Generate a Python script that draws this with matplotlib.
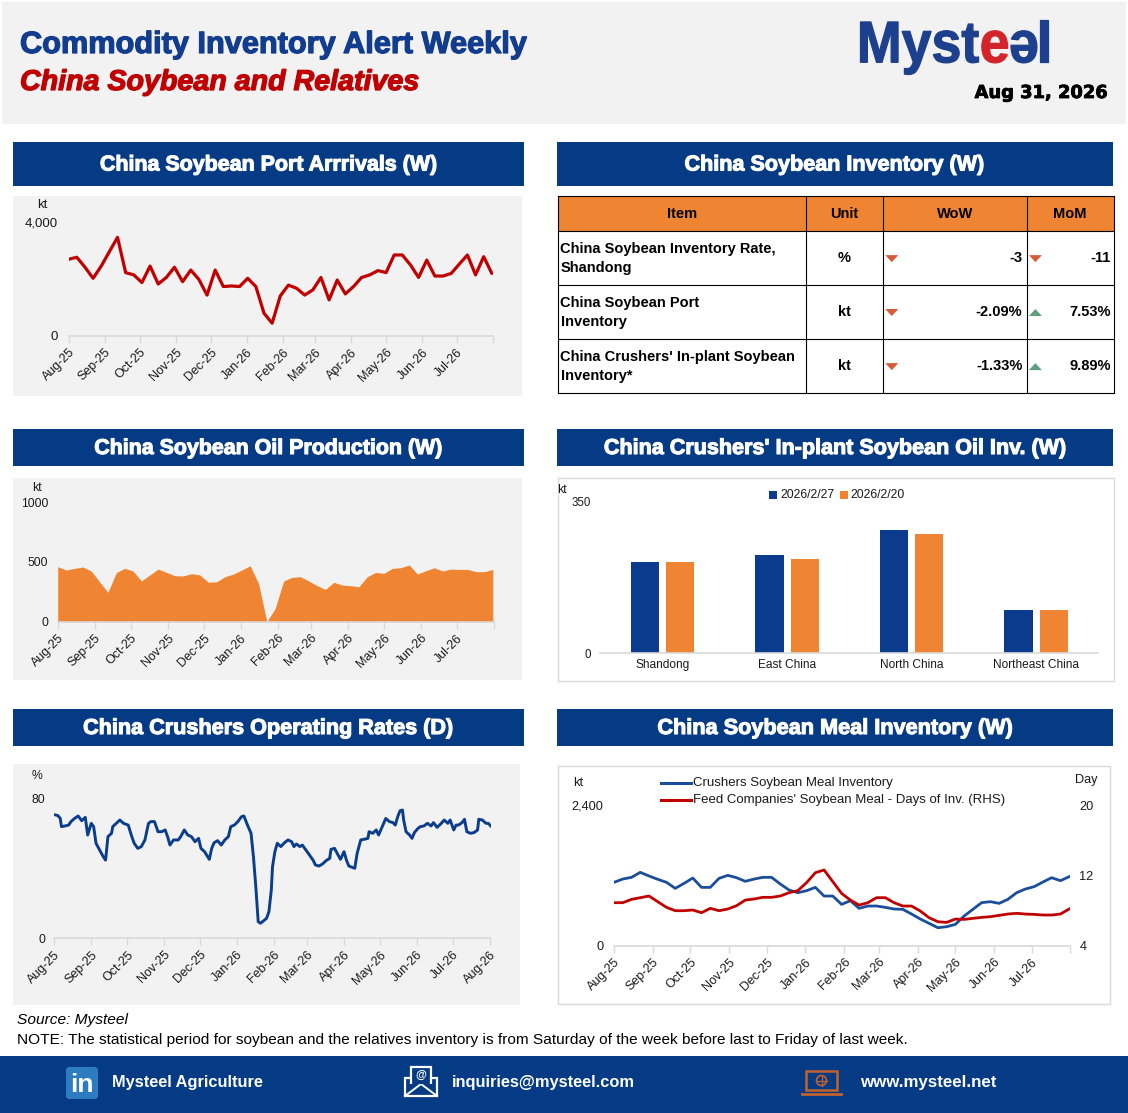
import matplotlib
matplotlib.use('Agg')
import matplotlib.pyplot as plt
from matplotlib.patches import Rectangle, Polygon, FancyBboxPatch, Circle, PathPatch
from matplotlib.textpath import TextPath
from matplotlib.font_manager import FontProperties
from matplotlib.transforms import Affine2D
import matplotlib.patheffects as pe
import pandas as pd

plt.rcParams['font.family'] = ['Liberation Sans', 'DejaVu Sans']

# ---------------- data ----------------
report_date = 'Aug 31, 2026'
series_start = '2025-08-01'

arrivals_kt = [2700, 2770, 2420, 2030, 2460, 2970, 3470, 2230, 2150, 1880, 2460, 1830, 2060, 2420,
               1910, 2320, 1990, 1440, 2320, 1740, 1760, 1740, 2030, 1740, 800, 450, 1410, 1790,
               1680, 1440, 1620, 2060, 1270, 1970, 1480, 1740, 2060, 2150, 2300, 2230, 2850, 2850,
               2500, 2060, 2670, 2110, 2110, 2200, 2530, 2850, 2150, 2790, 2200]

oil_prod_kt = [461, 433, 447, 458, 425, 335, 246, 411, 447, 425, 341, 391, 441, 413, 385, 383, 402,
               391, 330, 335, 377, 399, 433, 469, 321, 0, 112, 341, 371, 377, 341, 302, 271, 330,
               307, 302, 293, 377, 413, 405, 447, 452, 475, 399, 427, 452, 425, 441, 438, 438, 419,
               419, 438]

rate_day = [1, 3, 5, 6, 9, 12, 14, 17, 20, 23, 26, 28, 31, 33, 35, 38, 41, 43, 45, 48, 49, 52, 55, 58,
            62, 65, 67, 70, 73, 76, 79, 81, 84, 87, 90, 93, 95, 97, 100, 104, 106, 109, 112, 115, 118,
            121, 123, 126, 130, 132, 134, 137, 140, 143, 146, 148, 151, 154, 157, 159, 162, 165, 167,
            169, 171, 173, 178, 180, 182, 183, 185, 187, 190, 193, 196, 199, 201, 203, 206, 208, 211,
            214, 217, 219, 222, 225, 228, 231, 232, 235, 238, 240, 243, 245, 247, 252, 254, 257, 260,
            263, 264, 267, 270, 272, 275, 278, 281, 284, 286, 288, 290, 292, 293, 295, 298, 300, 302,
            305, 307, 310, 313, 316, 318, 321, 324, 327, 330, 332, 335, 337, 339, 342, 344, 346, 349,
            352, 355, 356, 359, 362, 364, 366]
rate_pct = [70.5, 70.1, 68.5, 63.8, 64.2, 64.7, 66.7, 68.5, 69.9, 67.2, 69.1, 59.0, 65.7, 63.8, 54.3,
            50.5, 46.7, 44.7, 58.1, 60.0, 63.8, 65.7, 67.6, 65.7, 64.7, 58.1, 54.3, 51.4, 52.4, 56.2,
            65.7, 66.7, 66.7, 60.9, 60.9, 61.9, 58.1, 53.3, 56.2, 56.2, 58.1, 61.9, 59.0, 58.1, 55.2,
            57.1, 51.4, 49.5, 45.1, 51.4, 54.6, 55.8, 53.3, 56.2, 58.1, 63.8, 64.7, 66.7, 69.5, 69.9,
            64.7, 60.0, 46.7, 29.5, 9.5, 8.6, 11.4, 15.2, 27.6, 40.9, 49.5, 54.3, 52.4, 54.6, 56.2,
            55.2, 52.4, 53.9, 52.4, 53.3, 50.5, 47.6, 44.7, 41.9, 41.3, 42.5, 44.4, 45.7, 50.8, 51.4,
            47.6, 45.1, 49.5, 44.7, 41.3, 40.0, 48.6, 56.2, 56.6, 57.1, 60.9, 60.0, 61.9, 59.0, 63.8,
            68.5, 66.7, 66.1, 64.7, 69.5, 72.9, 73.3, 67.6, 60.9, 59.0, 57.1, 60.4, 62.8, 63.8, 64.2,
            65.7, 64.2, 66.1, 63.4, 65.3, 67.6, 65.7, 67.6, 61.9, 64.7, 64.7, 66.1, 68.0, 60.9, 60.0,
            60.4, 61.9, 68.0, 67.6, 65.7, 65.7, 64.2]

regions = ['Shandong', 'East China', 'North China', 'Northeast China']
oil_inv_labels = ['2026/2/27', '2026/2/20']
oil_inv_0227 = [210, 227, 285, 100]
oil_inv_0220 = [210, 218, 275, 100]

meal_inv_kt = [1081, 1137, 1166, 1251, 1189, 1132, 1081, 978, 1063, 1154, 995, 995, 1149, 1200, 1160,
               1098, 1137, 1166, 1166, 1052, 950, 904, 938, 995, 847, 847, 705, 768, 637, 677, 677,
               654, 626, 620, 540, 455, 381, 307, 324, 364, 506, 620, 734, 751, 722, 791, 904, 967,
               1007, 1086, 1160, 1109, 1177]
feed_days = [8.89, 8.89, 9.27, 9.46, 9.65, 9.00, 8.36, 7.98, 7.98, 8.06, 7.75, 8.25, 7.98, 8.17, 8.55,
             9.19, 9.31, 9.50, 9.50, 9.65, 10.03, 10.26, 11.17, 12.30, 12.61, 11.28, 9.95, 9.19, 8.62,
             8.89, 9.46, 9.46, 8.89, 8.51, 8.51, 7.94, 7.18, 6.73, 6.65, 7.03, 6.99, 7.11, 7.22, 7.30,
             7.45, 7.60, 7.68, 7.60, 7.56, 7.49, 7.49, 7.60, 8.17]
meal_legend = ['Crushers Soybean Meal Inventory', "Feed Companies' Soybean Meal - Days of Inv. (RHS)"]

table_header = ['Item', 'Unit', 'WoW', 'MoM']
table_items = [['China Soybean Inventory Rate,', 'Shandong'],
               ['China Soybean Port', 'Inventory'],
               ["China Crushers' In-plant Soybean", 'Inventory*']]
table_units = ['%', 'kt', 'kt']
table_wow = ['-3', '-2.09%', '-1.33%']
table_mom = ['-11', '7.53%', '9.89%']

panel_titles = ['China Soybean Port Arrrivals (W)', 'China Soybean Inventory (W)',
                'China Soybean Oil Production (W)', "China Crushers' In-plant Soybean Oil Inv. (W)",
                'China Crushers Operating Rates (D)', 'China Soybean Meal Inventory (W)']

# ---------------- style ----------------
W, H = 1128, 1113
BAR_BLUE = '#0B3B8C'
TITLE_BLUE = '#123D8F'
LOGO_BLUE = '#1C3F8E'
LOGO_RED = '#D4242B'
RED = '#C00000'
ORANGE = '#EF8532'
NAVY = '#053A84'
GRAYBG = '#F2F2F2'
AXGRAY = '#D9D9D9'
TXT = '#1A1A1A'
DOWN = '#D95A38'
UP = '#5E9F80'

fig = plt.figure(figsize=(W / 100, H / 100), dpi=100)
fig.patch.set_facecolor('white')
bg = fig.add_axes([0, 0, 1, 1])
bg.set_xlim(0, W)
bg.set_ylim(H, 0)
bg.axis('off')
bg.set_zorder(0)

fits = []


def rect(x0, y0, x1, y1, fc, ec='none', lw=0, z=1):
    bg.add_patch(Rectangle((x0, y0), x1 - x0, y1 - y0, facecolor=fc, edgecolor=ec, linewidth=lw, zorder=z))


def txt(x, y, s, size, target=None, heavy=0, **kw):
    kw.setdefault('va', 'center')
    kw.setdefault('color', TXT)
    t = bg.text(x, y, s, fontsize=size, **kw)
    if heavy:
        t.set_path_effects([pe.withStroke(linewidth=heavy, foreground=kw['color'])])
    if target:
        fits.append((t, target))
    return t


# header
rect(2, 2, 1126, 124, GRAYBG)
txt(20, 45, 'Commodity Inventory Alert Weekly', 21, target=507, heavy=0.9, weight='bold', color=TITLE_BLUE)
txt(20, 82, 'China Soybean and Relatives', 19, target=399, heavy=0.9, weight='bold', style='italic', color=RED)
txt(1108, 93, report_date, 13, target=133, heavy=0.6, weight='bold', ha='right', color='black',
    family='DejaVu Sans')

# panels
bars = [(13, 142, 524, 186), (557, 142, 1113, 186), (13, 429, 524, 466),
        (557, 429, 1113, 466), (13, 709, 524, 746), (557, 709, 1113, 746)]
title_w = [337, 300, 349, 463, 370, 356]
for (x0, y0, x1, y1), ttl, tw in zip(bars, panel_titles, title_w):
    rect(x0, y0, x1, y1, NAVY)
    txt((x0 + x1) / 2, (y0 + y1) / 2 + 1, ttl, 15, target=tw, heavy=0.8, weight='bold',
        color='white', ha='center')

rect(13, 196, 522, 396, GRAYBG)
rect(13, 478, 522, 680, GRAYBG)
rect(13, 764, 520, 1005, GRAYBG)
rect(557.5, 477.5, 1114, 681, 'white', ec=AXGRAY, lw=1)
rect(557.5, 765.5, 1110, 1004, 'white', ec=AXGRAY, lw=1)

# footer
rect(0, 1056, W, H, NAVY)
bg.add_patch(FancyBboxPatch((66, 1067), 32, 32, boxstyle='round,pad=0,rounding_size=3',
                            facecolor='#2B7CC1', edgecolor='none', zorder=2))
txt(82, 1085, 'in', 19, weight='bold', color='white', ha='center', zorder=3)
txt(112, 1082, 'Mysteel Agriculture', 12, target=151, weight='bold', color='white')
bg.add_patch(Polygon([(405, 1078), (437, 1078), (437, 1096), (405, 1096)], closed=True,
                     facecolor='none', edgecolor='white', lw=1.6, zorder=3))
bg.plot([405, 421, 437], [1096, 1084, 1096], color='white', lw=1.4, zorder=3)
bg.add_patch(Polygon([(411, 1084), (411, 1067), (431, 1067), (431, 1084)], closed=False,
                     facecolor=NAVY, edgecolor='white', lw=1.6, zorder=4))
txt(421, 1075, '@', 8, weight='bold', color='white', ha='center', zorder=5)
txt(452, 1082, 'inquiries@mysteel.com', 12, target=183, weight='bold', color='white')
bg.add_patch(Rectangle((806, 1071), 31, 19, facecolor='none', edgecolor='#C0622D', lw=1.8, zorder=3))
bg.plot([802, 841], [1094, 1094], color='#C0622D', lw=2, zorder=3)
bg.add_patch(Circle((821.5, 1080.5), 5, facecolor='none', edgecolor='#C0622D', lw=1.2, zorder=3))
bg.plot([816.5, 826.5], [1080.5, 1080.5], color='#C0622D', lw=0.9, zorder=3)
bg.plot([821.5, 821.5], [1075.5, 1085.5], color='#C0622D', lw=0.9, zorder=3)
txt(860, 1082, 'www.mysteel.net', 12, target=137, weight='bold', color='white')

# source & note
txt(17, 1020, 'Source: Mysteel', 11, target=111, style='italic', color='black')
txt(17, 1040, 'NOTE: The statistical period for soybean and the relatives inventory is from Saturday '
              'of the week before last to Friday of last week.', 11, target=892, color='black')

# ---------------- table ----------------
tx = [557.9, 805.6, 883.1, 1026.6, 1113.5]
ty = [195.7, 231.3, 285.0, 339.0, 393.3]
rect(tx[0], ty[0], tx[-1], ty[1], ORANGE)
for y in ty:
    bg.plot([tx[0], tx[-1]], [y, y], color='black', lw=0.8, zorder=3)
for x in tx:
    bg.plot([x, x], [ty[0], ty[-1]], color='black', lw=0.8, zorder=3)
hc = (ty[0] + ty[1]) / 2
for i, h in enumerate(table_header):
    txt((tx[i] + tx[i + 1]) / 2, hc, h, 10.5, weight='bold', ha='center', color='black')


def tri(cx, cy, up):
    if up:
        pts = [(cx - 6.5, cy + 3.5), (cx + 6.5, cy + 3.5), (cx, cy - 3.5)]
        c = UP
    else:
        pts = [(cx - 6.5, cy - 3.5), (cx + 6.5, cy - 3.5), (cx, cy + 3.5)]
        c = DOWN
    bg.add_patch(Polygon(pts, closed=True, facecolor=c, edgecolor='none', zorder=4))


for r in range(3):
    y0, y1 = ty[r + 1], ty[r + 2]
    cy = (y0 + y1) / 2
    txt(560.5, cy - 9.5, table_items[r][0], 10.5, weight='bold', color='black')
    txt(560.5, cy + 10, table_items[r][1], 10.5, weight='bold', color='black')
    txt((tx[1] + tx[2]) / 2, cy, table_units[r], 10.5, weight='bold', ha='center', color='black')
    tri(891.8, cy + 0.5, not table_wow[r].startswith('-'))
    txt(1022.5, cy, table_wow[r], 10.5, weight='bold', ha='right', color='black')
    tri(1035.4, cy + 0.5, not table_mom[r].startswith('-'))
    txt(1110.5, cy, table_mom[r], 10.5, weight='bold', ha='right', color='black')


# ---------------- charts ----------------
def add_ax(x0, y0, x1, y1, ylab_size=9, ypad=7.5):
    ax = fig.add_axes([x0 / W, 1 - y1 / H, (x1 - x0) / W, (y1 - y0) / H])
    ax.set_facecolor('none')
    ax.set_zorder(2)
    for s in ['top', 'right', 'left']:
        ax.spines[s].set_visible(False)
    ax.spines['bottom'].set_color(AXGRAY)
    ax.spines['bottom'].set_linewidth(1.2)
    ax.tick_params(axis='x', colors=AXGRAY, length=5, width=1, labelcolor=TXT, labelsize=9, pad=2.5)
    ax.tick_params(axis='y', length=0, labelcolor=TXT, labelsize=ylab_size, pad=ypad)
    return ax


months = pd.date_range('2025-08-01', '2026-08-01', freq='MS')


def date_axis(ax, label_last):
    labels = [d.strftime('%b-%y') for d in months]
    if not label_last:
        labels[-1] = ''
    ax.set_xlim(months[0], months[-1])
    ax.set_xticks(months)
    ax.set_xticklabels(labels, rotation=45, ha='right', rotation_mode='anchor')


weeks = pd.date_range(series_start, periods=len(arrivals_kt), freq='7D')

# chart 1 - port arrivals
ax1 = add_ax(68.7, 222.3, 493, 336, ylab_size=9.5, ypad=7.5)
ax1.plot(weeks, arrivals_kt, color=RED, lw=2.3, solid_joinstyle='round', solid_capstyle='round')
ax1.set_ylim(0, 4000)
ax1.set_yticks([0, 4000])
ax1.set_yticklabels(['0', '4,000'])
date_axis(ax1, False)
txt(42.7, 205, 'kt', 9.5, ha='center')

# chart 2 - oil production
ax2 = add_ax(57.7, 502.3, 494, 621.7, ylab_size=8.8, ypad=6.8)
ax2.fill_between(weeks, 0, oil_prod_kt, color=ORANGE, lw=0)
ax2.set_ylim(0, 1000)
ax2.set_yticks([0, 500, 1000])
date_axis(ax2, False)
txt(36.7, 488, 'kt', 8.8, ha='center')

# chart 3 - operating rates
rate_dates = pd.Timestamp(series_start) + pd.to_timedelta(rate_day, unit='D')
ax3 = add_ax(54.3, 798.3, 490.7, 938.3, ylab_size=8.8, ypad=6.7)
ax3.plot(rate_dates, rate_pct, color='#0A3D8C', lw=2.1, solid_joinstyle='round')
ax3.set_ylim(0, 80)
ax3.set_yticks([0, 80])
date_axis(ax3, True)
ax3.set_xlim(months[0], months[-1] + pd.Timedelta(days=1))
txt(36.7, 776, '%', 8.8, ha='center')

# chart 4 - oil inventory bars
ax4 = add_ax(600.3, 501.7, 1098.3, 653.3, ylab_size=8.3, ypad=6.5)
xs = list(range(len(regions)))
bw = 0.227
off = bw / 2 + 0.028
ax4.bar([x - off for x in xs], oil_inv_0227, width=bw, color=BAR_BLUE)
ax4.bar([x + off for x in xs], oil_inv_0220, width=bw, color=ORANGE)
ax4.set_xlim(-0.5, len(regions) - 0.5)
ax4.set_ylim(0, 350)
ax4.set_yticks([0, 350])
ax4.set_xticks(xs)
ax4.set_xticklabels(regions)
ax4.tick_params(axis='x', length=0, labelsize=8.6, pad=4)
txt(561.5, 490, 'kt', 8.8, ha='center')
rect(769, 491, 777, 499, BAR_BLUE, z=3)
txt(780, 495, oil_inv_labels[0], 8.8)
rect(840, 491, 848, 499, ORANGE, z=3)
txt(850.5, 495, oil_inv_labels[1], 8.8)

# chart 6 - soybean meal
ax6 = add_ax(614.0, 805, 1070.4, 945.7, ylab_size=9.2, ypad=7.8)
ax6.plot(weeks, meal_inv_kt, color='#1A4E9C', lw=2.0, solid_joinstyle='round')
ax6.set_ylim(0, 2400)
ax6.set_yticks([0, 2400])
ax6.set_yticklabels(['0', '2,400'])
date_axis(ax6, False)
ax6r = ax6.twinx()
ax6r.set_zorder(3)
ax6r.set_facecolor('none')
for s in ax6r.spines.values():
    s.set_visible(False)
ax6r.plot(weeks, feed_days, color=RED, lw=2.0, solid_joinstyle='round')
ax6r.set_ylim(4, 20)
ax6r.set_yticks([4, 12, 20])
ax6r.tick_params(axis='y', length=0, labelcolor=TXT, labelsize=9.2, pad=6.5)
txt(578.5, 782.5, 'kt', 9.2, ha='center')
txt(1086.7, 780, 'Day', 9.2, ha='center')
bg.plot([661, 691], [782.7, 782.7], color='#1A4E9C', lw=2.2, zorder=3)
txt(693, 782.7, meal_legend[0], 9.5)
bg.plot([661, 691], [800, 800], color=RED, lw=2.2, zorder=3)
txt(693, 800, meal_legend[1], 9.5)

# ---------------- logo (scaled glyph outlines) ----------------
fp = FontProperties(family='Liberation Sans', weight='bold')
parts = [('Myst', LOGO_BLUE, False), ('e', LOGO_RED, False), ('e', LOGO_BLUE, True), ('l', LOGO_BLUE, False)]
placed = []
cur = 0.0
for s, col, rot in parts:
    p = TextPath((0, 0), s, size=100, prop=fp)
    ext = p.get_extents()
    if rot:
        p = p.transformed(Affine2D().rotate_deg_around((ext.x0 + ext.x1) / 2, (ext.y0 + ext.y1) / 2, 180))
        ext = p.get_extents()
    p = p.transformed(Affine2D().translate(cur - ext.x0, 0))
    placed.append((p, col))
    cur += ext.width + 6
total_w = cur - 6
sx = 187.0 / total_w
sy = 42.0 / 71.6
for p, col in placed:
    pp = p.transformed(Affine2D().scale(sx, -sy).translate(860.5, 62.3))
    bg.add_patch(PathPatch(pp, facecolor=col, edgecolor=col, linewidth=0.9, zorder=3))

# ---------------- fit text widths ----------------
for _ in range(2):
    fig.canvas.draw()
    renderer = fig.canvas.get_renderer()
    for t, target in fits:
        w = t.get_window_extent(renderer).width
        if w > 0:
            t.set_fontsize(t.get_fontsize() * target / w)

fig.savefig('out.png', dpi=100, facecolor='white')
